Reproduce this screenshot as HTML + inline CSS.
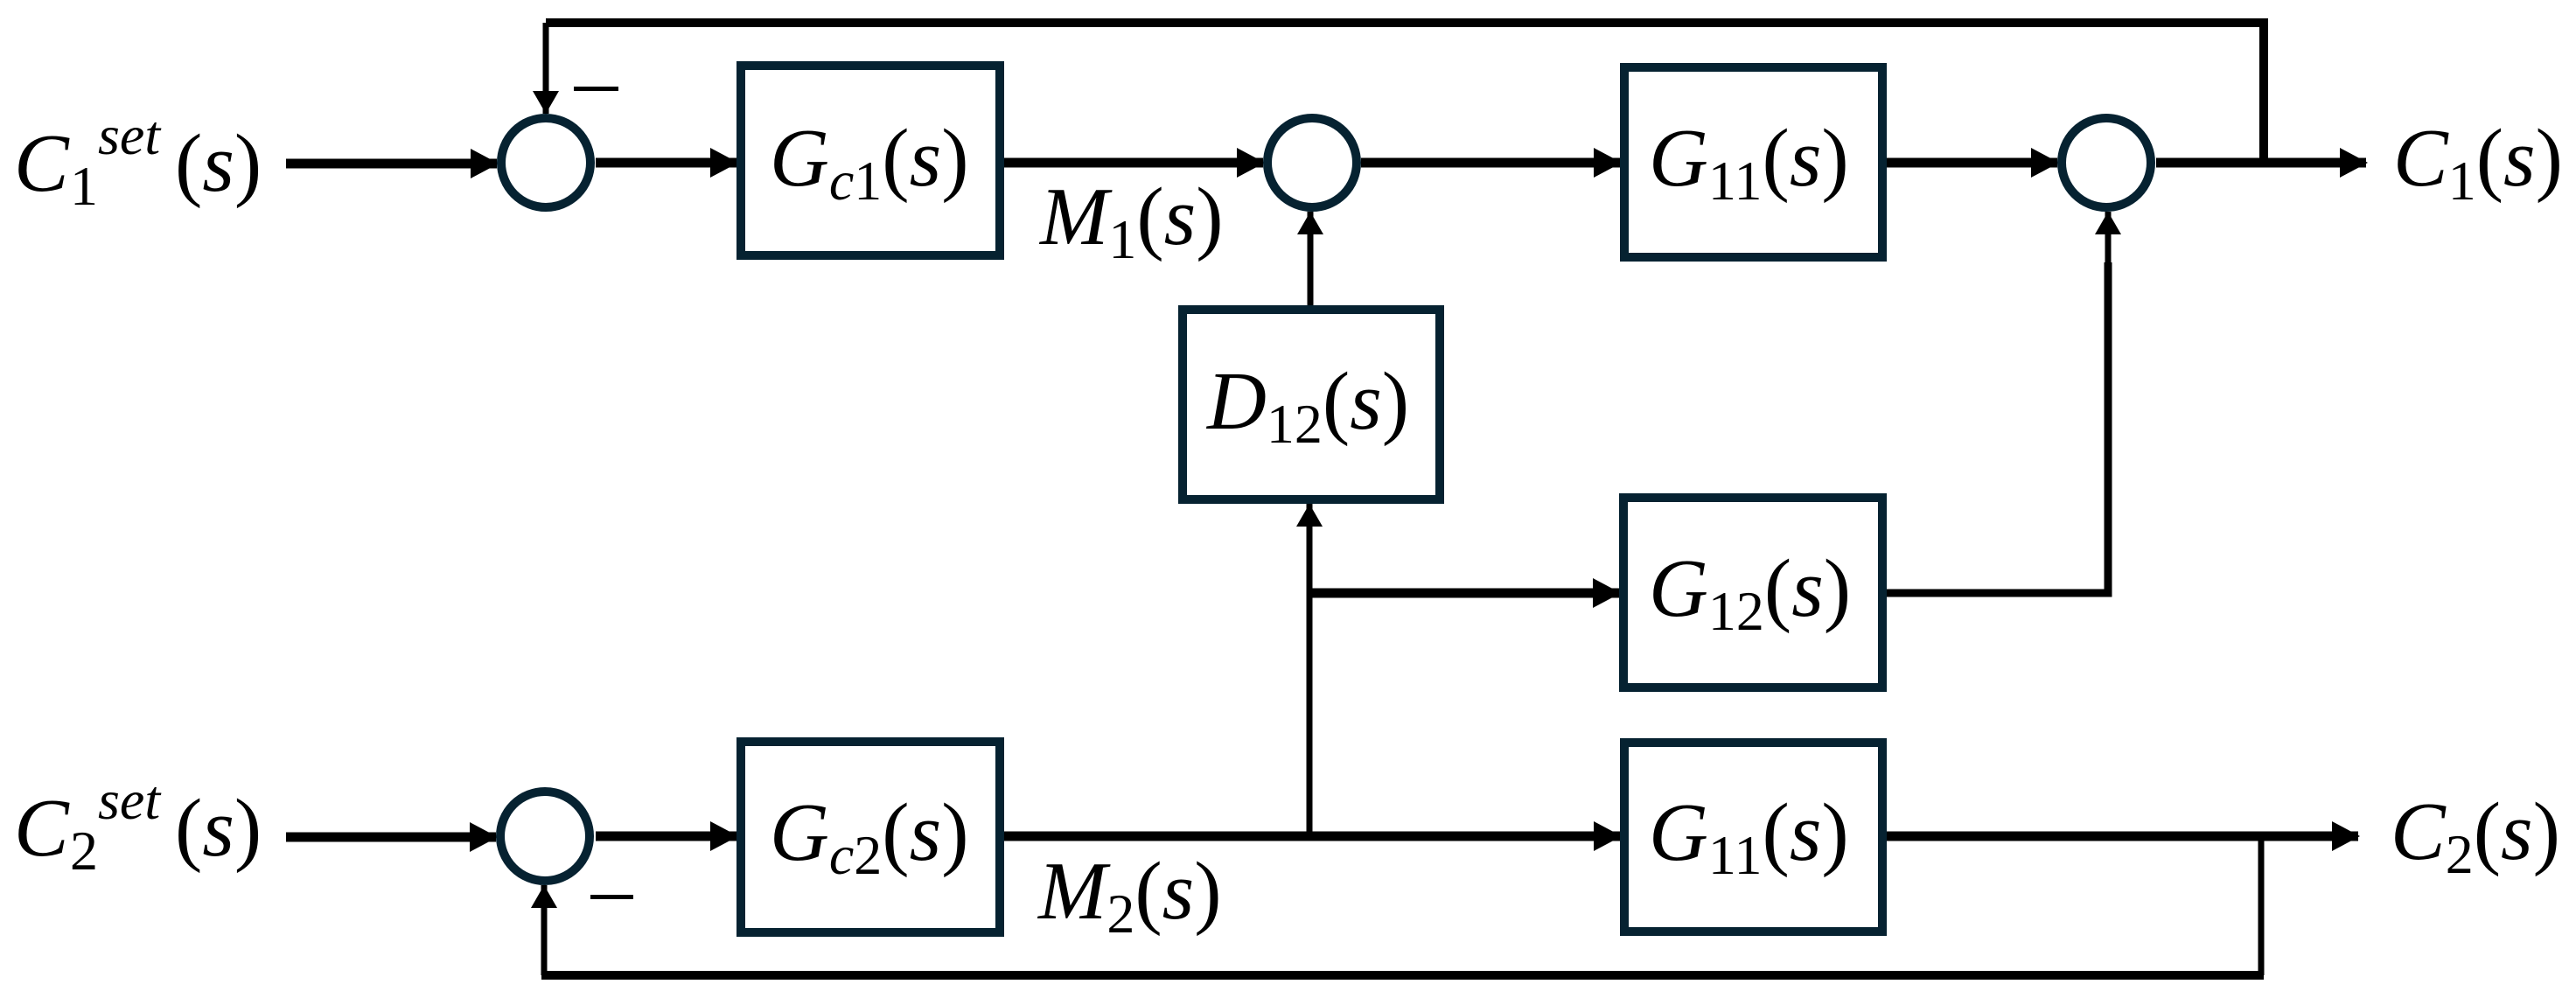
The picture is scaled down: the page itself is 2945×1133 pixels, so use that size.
<!DOCTYPE html>
<html><head><meta charset="utf-8"><style>
html,body{margin:0;padding:0;background:#fff;}
svg{display:block;}
text{font-family:"Liberation Serif","DejaVu Serif",serif;font-size:94px;fill:#000;}
.i{font-style:italic;}
.sub{font-size:64px;}
</style></head><body>
<svg width="2945" height="1133" viewBox="0 0 2945 1133" xmlns="http://www.w3.org/2000/svg">
<defs>
<marker id="a" markerUnits="userSpaceOnUse" markerWidth="32" markerHeight="34" refX="30" refY="17" orient="auto">
<path d="M0,0 L32,17 L0,34 Z" fill="#000"/></marker>
<marker id="b" markerUnits="userSpaceOnUse" markerWidth="26" markerHeight="30" refX="26" refY="15" orient="auto">
<path d="M0,0 L26,15 L0,30 Z" fill="#000"/></marker>
</defs>
<g fill="none" stroke="#000">
<polyline points="2588,186 2588,26 624,26" stroke-width="10"/>
<line x1="2588" y1="26" x2="2588" y2="186" stroke-width="7"/>
<line x1="624" y1="26" x2="624" y2="130" stroke-width="7" marker-end="url(#b)"/>
<line x1="327" y1="187" x2="568" y2="187" stroke-width="11" marker-end="url(#a)"/>
<line x1="681" y1="186" x2="842" y2="186" stroke-width="11" marker-end="url(#a)"/>
<line x1="1148" y1="186" x2="1444" y2="186" stroke-width="11" marker-end="url(#a)"/>
<line x1="1556" y1="186" x2="1852" y2="186" stroke-width="11" marker-end="url(#a)"/>
<line x1="2157" y1="186" x2="2352" y2="186" stroke-width="11" marker-end="url(#a)"/>
<line x1="2465" y1="186" x2="2705" y2="186" stroke-width="11" marker-end="url(#a)"/>
<line x1="1498" y1="349" x2="1498" y2="242" stroke-width="7" marker-end="url(#b)"/>
<line x1="1497" y1="956" x2="1497" y2="576" stroke-width="7" marker-end="url(#b)"/>
<line x1="1497" y1="678" x2="1851" y2="678" stroke-width="11" marker-end="url(#a)"/>
<polyline points="2157,678 2410,678 2410,300" stroke-width="9"/>
<line x1="2410" y1="300" x2="2410" y2="242" stroke-width="7" marker-end="url(#b)"/>
<line x1="327" y1="957" x2="567" y2="957" stroke-width="11" marker-end="url(#a)"/>
<line x1="681" y1="956" x2="842" y2="956" stroke-width="11" marker-end="url(#a)"/>
<line x1="1148" y1="956" x2="1852" y2="956" stroke-width="11" marker-end="url(#a)"/>
<line x1="2157" y1="956" x2="2696" y2="956" stroke-width="11" marker-end="url(#a)"/>
<line x1="2585" y1="956" x2="2585" y2="1115" stroke-width="7"/>
<line x1="619" y1="1115" x2="2588" y2="1115" stroke-width="10"/>
<line x1="622" y1="1115" x2="622" y2="1012" stroke-width="7" marker-end="url(#b)"/>
</g>
<g fill="#fff" stroke="#062231" stroke-width="10">
<rect x="847" y="75" width="296" height="217"/>
<rect x="1857" y="77" width="295" height="217"/>
<rect x="1352" y="354" width="294" height="217"/>
<rect x="1856" y="569" width="296" height="217"/>
<rect x="847" y="848" width="296" height="218"/>
<rect x="1857" y="849" width="295" height="216"/>
<circle cx="624" cy="186" r="51"/>
<circle cx="1500" cy="186" r="51"/>
<circle cx="2408" cy="186" r="51"/>
<circle cx="623" cy="956" r="51"/>
</g>
<rect x="656" y="99" width="51" height="5" fill="#000"/>
<rect x="675" y="1023" width="49" height="5" fill="#000"/>
<text x="16" y="218"><tspan class="i">C</tspan><tspan class="sub" x="80" y="234">1</tspan><tspan class="sub i" x="112" y="176">set</tspan><tspan x="200" y="218">(</tspan><tspan class="i">s</tspan>)</text>
<text x="16" y="978"><tspan class="i">C</tspan><tspan class="sub" x="80" y="994">2</tspan><tspan class="sub i" x="112" y="936">set</tspan><tspan x="200" y="978">(</tspan><tspan class="i">s</tspan>)</text>
<text x="880" y="212"><tspan class="i">G</tspan><tspan class="sub i" y="228">c</tspan><tspan class="sub" y="228">1</tspan><tspan y="212">(</tspan><tspan class="i">s</tspan>)</text>
<text x="880" y="983"><tspan class="i">G</tspan><tspan class="sub i" y="999">c</tspan><tspan class="sub" y="999">2</tspan><tspan y="983">(</tspan><tspan class="i">s</tspan>)</text>
<text x="1885" y="212"><tspan class="i">G</tspan><tspan class="sub" y="228">11</tspan><tspan y="212">(</tspan><tspan class="i">s</tspan>)</text>
<text x="1885" y="704"><tspan class="i">G</tspan><tspan class="sub" y="720">12</tspan><tspan y="704">(</tspan><tspan class="i">s</tspan>)</text>
<text x="1885" y="983"><tspan class="i">G</tspan><tspan class="sub" y="999">11</tspan><tspan y="983">(</tspan><tspan class="i">s</tspan>)</text>
<text x="1380" y="490"><tspan class="i">D</tspan><tspan class="sub" y="506">12</tspan><tspan y="490">(</tspan><tspan class="i">s</tspan>)</text>
<text x="1189" y="279"><tspan class="i">M</tspan><tspan class="sub" y="295">1</tspan><tspan y="279">(</tspan><tspan class="i">s</tspan>)</text>
<text x="1187" y="1050"><tspan class="i">M</tspan><tspan class="sub" y="1066">2</tspan><tspan y="1050">(</tspan><tspan class="i">s</tspan>)</text>
<text x="2736" y="212"><tspan class="i">C</tspan><tspan class="sub" y="228">1</tspan><tspan y="212">(</tspan><tspan class="i">s</tspan>)</text>
<text x="2733" y="982"><tspan class="i">C</tspan><tspan class="sub" y="998">2</tspan><tspan y="982">(</tspan><tspan class="i">s</tspan>)</text>
</svg>
</body></html>
